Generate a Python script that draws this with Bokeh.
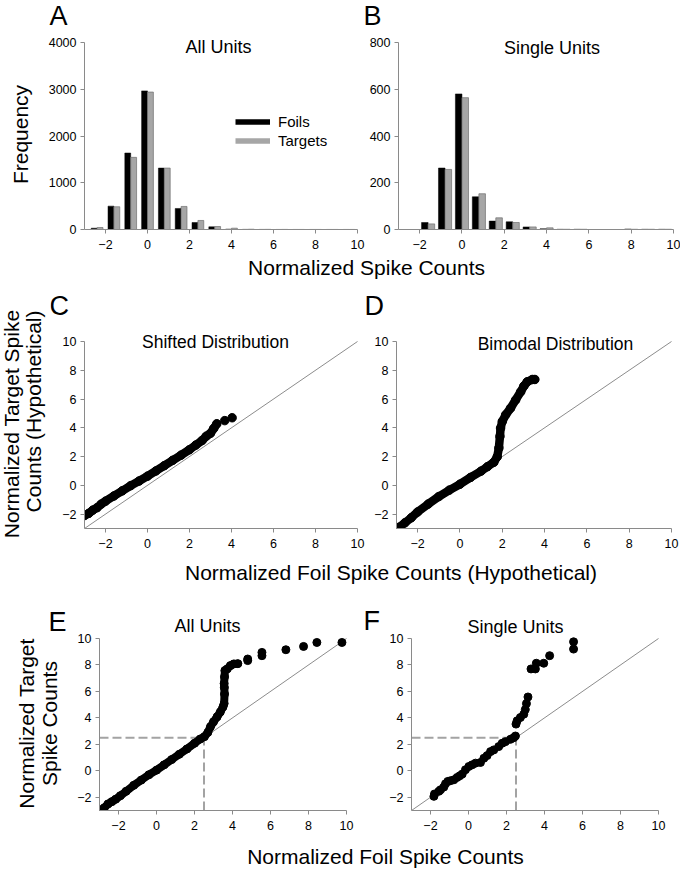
import math
import numpy as np
from bokeh.plotting import figure
from bokeh.models import Range1d, FixedTicker, Label, Legend, LegendItem, ColumnDataSource
from bokeh.layouts import column, row
from bokeh.transform import dodge
from bokeh.embed import file_html
from bokeh.resources import INLINE

# ---------------- data ----------------
bins = [-2.4, -1.6, -0.8, 0.0, 0.8, 1.6, 2.4, 3.2, 4.0, 4.8, 5.6, 6.4, 7.2, 8.0, 8.8, 9.6]
all_foils = [28, 500, 1636, 2965, 1314, 450, 150, 57, 8, 3, 2, 1, 1, 1, 1, 1]
all_targets = [43, 486, 1543, 2940, 1314, 493, 193, 64, 28, 6, 3, 2, 1, 1, 1, 1]
single_foils = [0, 30, 263, 580, 140, 36, 33, 11, 3, 1, 1, 0, 0, 2, 1, 1]
single_targets = [0, 24, 257, 564, 153, 50, 30, 11, 7, 1, 1, 0, 0, 1, 1, 1]

shift_foil = [-3.0, -2.8, -2.6, -2.4, -2.2, -2.0, -1.6, -1.2, -0.8, -0.4, 0.0, 0.4, 0.8, 1.2, 1.6,
              2.0, 2.3, 2.6, 2.8, 3.0, 3.15, 3.3, 3.68, 4.03]
shift_target = [-2.1, -1.95, -1.72, -1.55, -1.3, -1.1, -0.74, -0.38, -0.02, 0.3, 0.64, 1.0, 1.37, 1.74, 2.1,
                2.48, 2.8, 3.12, 3.42, 3.62, 3.95, 4.28, 4.5, 4.7]

bimodal_foil = [-2.88, -2.6, -2.3, -2.0, -1.5, -1.0, -0.5, 0.0, 0.5, 1.0, 1.3, 1.6, 1.76, 1.84, 1.89,
                1.92, 2.0, 2.16, 2.39, 2.63, 2.87, 3.02, 3.18, 3.42, 3.54]
bimodal_target = [-2.92, -2.6, -2.25, -1.85, -1.3, -0.78, -0.33, 0.08, 0.55, 0.99, 1.3, 1.6, 1.98, 2.6, 3.4,
                  3.98, 4.44, 4.9, 5.36, 5.93, 6.5, 6.9, 7.2, 7.36, 7.36]

all_qq_foil = [-2.86, -2.75, -2.55, -2.35, -2.15, -1.9, -1.6, -1.2, -0.8, -0.4, 0.0, 0.4, 0.8, 1.2, 1.6,
               2.0, 2.3, 2.52, 2.7, 2.84, 3.0, 3.19, 3.36, 3.5, 3.56, 3.58, 3.57, 3.56, 3.58, 3.6,
               3.72, 3.89, 4.07, 4.28, 4.8, 4.8, 5.55, 5.55, 6.81, 7.74, 8.44, 9.76]
all_qq_target = [-2.93, -2.8, -2.5, -2.33, -2.15, -1.88, -1.55, -1.1, -0.7, -0.3, 0.05, 0.45, 0.85, 1.25, 1.65,
                 2.08, 2.4, 2.58, 2.9, 3.33, 3.7, 4.08, 4.45, 4.83, 5.08, 5.8, 6.3, 6.6, 7.1, 7.58,
                 7.7, 7.95, 8.08, 8.1, 8.33, 8.45, 8.7, 8.95, 9.15, 9.4, 9.7, 9.7]

single_qq_foil = [-1.82, -1.79, -1.56, -1.47, -1.3, -1.21, -1.09, -0.95, -0.77, -0.6, -0.46, -0.33, -0.16, 0.02,
                  0.19, 0.37, 0.63, 0.81, 0.98, 1.16, 1.33, 1.59, 1.77, 1.94, 2.21, 2.38, 2.47, 2.5, 2.56,
                  2.73, 2.91, 2.99, 3.05, 3.13, 3.29, 3.52, 3.57, 3.96, 4.27, 5.53, 5.53]
single_qq_target = [-1.93, -1.75, -1.55, -1.43, -1.23, -0.98, -0.8, -0.75, -0.68, -0.5, -0.38, -0.25, 0.08, 0.33,
                    0.45, 0.58, 0.63, 0.95, 1.15, 1.45, 1.58, 1.83, 2.08, 2.2, 2.38, 2.5, 2.63, 3.53, 3.78,
                    4.03, 4.28, 4.63, 5.08, 5.58, 7.7, 7.7, 8.13, 8.13, 8.7, 9.2, 9.75]

diag = [-3, 10]
threshold = 2.5
axis_min = -3

x_ticks = [-2, 0, 2, 4, 6, 8, 10]
qq_y_ticks = [-2, 0, 2, 4, 6, 8, 10]
all_y_ticks = [0, 1000, 2000, 3000, 4000]
single_y_ticks = [0, 200, 400, 600, 800]

# ---------------- styling helpers ----------------
FONT = "Liberation Sans"
AXIS_GRAY = "#8a8a8a"
BAR_GRAY = "#a6a6a6"
CAP_MID = 0.358  # cap-height centre above the baseline, in em


def _base(w, h, xr, yr, borders, axes=True):
    bl, br, bt, bb = borders
    kw = {}
    if not axes:
        kw = dict(x_axis_location=None, y_axis_location=None)
    p = figure(frame_width=w, frame_height=h, x_range=Range1d(*xr), y_range=Range1d(*yr),
               min_border_left=bl, min_border_right=br, min_border_top=bt, min_border_bottom=bb,
               output_backend="svg", toolbar_location=None, title=None, **kw)
    p.outline_line_color = None
    p.grid.visible = False
    p.background_fill_color = "white"
    p.border_fill_color = "white"
    return p


def blank(box):
    """A text-only panel covering box (left, top, right, bottom) in page pixels."""
    l, t, r, b = box
    p = _base(r - l, b - t, (0, r - l), (b - t, 0), (0, 0, 0, 0), axes=False)
    p._map = lambda px, py: (px - l, py - t)
    return p


def plot_fig(fig_box, frame_box, plot_box, xr, yr):
    fl, ft, fr_, fb = fig_box
    l, t, r, b = frame_box
    pl, pt, pr, pb = plot_box
    sx = (xr[1] - xr[0]) / (pr - pl)
    sy = (yr[1] - yr[0]) / (pb - pt)
    xrange = (xr[0] - (pl - l) * sx, xr[1] + (r - pr) * sx)
    yrange = (yr[0] - (b - pb) * sy, yr[1] + (pt - t) * sy)
    p = _base(r - l, b - t, xrange, yrange, (l - fl, fr_ - r, t - ft, fb - b))
    for ax in (p.xaxis[0], p.yaxis[0]):
        ax.axis_line_color = AXIS_GRAY
        ax.axis_line_width = 1
        ax.major_tick_line_color = AXIS_GRAY
        ax.major_tick_in = 0
        ax.major_tick_out = 4
        ax.minor_tick_line_color = None
        ax.major_label_text_font = FONT
        ax.major_label_text_font_size = "12.5px"
        ax.major_label_text_color = "black"
    p.xaxis[0].major_label_standoff = 6
    p.yaxis[0].major_label_standoff = 4
    p.xaxis[0].bounds = tuple(xr)
    p.yaxis[0].bounds = tuple(yr)
    p.xaxis[0].ticker = FixedTicker(ticks=x_ticks)
    p._map = lambda px, py: (xr[0] + (px - pl) * sx, yr[1] - (py - pt) * sy)
    return p


def put(p, text, px, py, size, align="left", angle=0.0):
    """(px, py) is the baseline anchor in page pixels; text is centred on its cap height."""
    if angle:
        px = px - CAP_MID * size
    else:
        py = py - CAP_MID * size
    x, y = p._map(px, py)
    p.add_layout(Label(x=x, y=y, text=text, text_font=FONT, text_font_size=f"{size}px",
                       text_align=align, text_baseline="middle", angle=angle,
                       text_color="black"))


def histogram(p, foils, targets, w):
    src = ColumnDataSource(dict(bin=bins, foils=foils, targets=targets))
    p.vbar(x=dodge("bin", -w / 2, range=p.x_range), top="foils", width=w, source=src,
           fill_color="black", line_color="black", line_width=0.5)
    p.vbar(x=dodge("bin", w / 2, range=p.x_range), top="targets", width=w, source=src,
           fill_color=BAR_GRAY, line_color="#707070", line_width=0.7)


def qq(p, xs, ys, line_n, size, dashed):
    p.line(diag, diag, line_color="#8c8c8c", line_width=1)
    if dashed:
        p.line([axis_min, threshold], [threshold, threshold], line_color="#a3a3a3",
               line_width=2, line_dash="9 4")
        p.line([threshold, threshold], [axis_min, threshold], line_color="#a3a3a3",
               line_width=2, line_dash="9 4")
    if line_n:
        p.line(xs[:line_n], ys[:line_n], line_color="black", line_width=size,
               line_join="round", line_cap="round")
    p.scatter(xs, ys, size=size, fill_color="black", line_color="black")
    p.yaxis[0].ticker = FixedTicker(ticks=qq_y_ticks)


VERT = math.pi / 2

# ---------------- row 1: histograms ----------------
left1 = blank((0, 0, 45, 254))
put(left1, "Frequency", 28, 134, 21, align="center", angle=VERT)

top1 = blank((45, 0, 680, 34))
put(top1, "A", 49, 25, 27)
put(top1, "B", 363, 25, 27)

pA = plot_fig((45, 34, 366, 254), (84, 34, 366, 229), (84, 42, 357, 229), (-3, 10), (0, 4000))
histogram(pA, all_foils, all_targets, 0.28)
pA.yaxis[0].ticker = FixedTicker(ticks=all_y_ticks)
put(pA, "All Units", 218, 53, 18, align="center")

nan = np.array([np.nan])
leg_f = pA.line(nan, nan, line_color="black", line_width=5.5, line_cap="butt")
leg_t = pA.line(nan, nan, line_color=BAR_GRAY, line_width=5.5, line_cap="butt")
legend = Legend(items=[LegendItem(label="Foils", renderers=[leg_f]),
                       LegendItem(label="Targets", renderers=[leg_t])],
                location=(151, 80), glyph_width=35, glyph_height=17, label_height=17,
                spacing=2, padding=0, margin=0, label_standoff=8,
                label_text_font=FONT, label_text_font_size="15px", label_text_color="black",
                border_line_color=None, background_fill_alpha=0)
pA.add_layout(legend)

pB = plot_fig((366, 34, 680, 254), (396, 34, 680, 229), (396, 42, 671, 229), (-3, 10), (0, 800))
histogram(pB, single_foils, single_targets, 0.31)
pB.yaxis[0].ticker = FixedTicker(ticks=single_y_ticks)
put(pB, "Single Units", 549.5, 54, 18, align="center")

strip1 = blank((0, 254, 680, 286))
put(strip1, "Normalized Spike Counts", 366, 275, 21, align="center")

# ---------------- row 2: hypothetical ----------------
left2 = blank((0, 286, 50, 560))
put(left2, "Normalized Target Spike", 19, 309, 21, align="right", angle=VERT)
put(left2, "Counts (Hypothetical)", 41, 310, 21, align="right", angle=VERT)

top2 = blank((50, 286, 680, 333))
put(top2, "C", 49, 315, 27)
put(top2, "D", 364, 315, 27)

pC = plot_fig((50, 333, 366, 560), (84, 333, 366, 528), (84, 341, 357, 528), (-3, 10), (-3, 10))
qq(pC, shift_foil, shift_target, 22, 8.5, False)
put(pC, "Shifted Distribution", 215, 348, 17.5, align="center")

pD = plot_fig((366, 333, 680, 560), (396, 333, 680, 528), (396, 341, 671, 528), (-3, 10), (-3, 10))
qq(pD, bimodal_foil, bimodal_target, len(bimodal_foil), 8.5, False)
put(pD, "Bimodal Distribution", 555, 350, 17.5, align="center")

strip2 = blank((0, 560, 680, 590))
put(strip2, "Normalized Foil Spike Counts (Hypothetical)", 390.5, 580, 21, align="center")

# ---------------- row 3: observed ----------------
left3 = blank((0, 590, 70, 836))
put(left3, "E", 48, 631, 27)
put(left3, "Normalized Target", 34, 723, 21, align="center", angle=VERT)
put(left3, "Spike Counts", 57, 723, 21, align="center", angle=VERT)

pE = plot_fig((70, 590, 364, 836), (99, 590, 364, 810), (99, 638, 346, 810), (-3, 10), (-3, 10))
qq(pE, all_qq_foil, all_qq_target, 34, 8, True)
put(pE, "All Units", 207, 632, 18, align="center")

fstrip = blank((364, 590, 385, 836))
put(fstrip, "F", 363, 630, 27)

pF = plot_fig((385, 590, 680, 836), (411, 590, 680, 810), (411, 638, 658, 810), (-3, 10), (-3, 10))
qq(pF, single_qq_foil, single_qq_target, 0, 8, True)
put(pF, "Single Units", 515, 633, 18, align="center")

strip3 = blank((0, 836, 680, 872))
put(strip3, "Normalized Foil Spike Counts", 385, 864, 21, align="center")

layout = column(
    row(left1, column(top1, row(pA, pB))),
    strip1,
    row(left2, column(top2, row(pC, pD))),
    strip2,
    row(left3, pE, fstrip, pF),
    strip3,
)

open("out.html", "w").write(file_html(layout, INLINE))
